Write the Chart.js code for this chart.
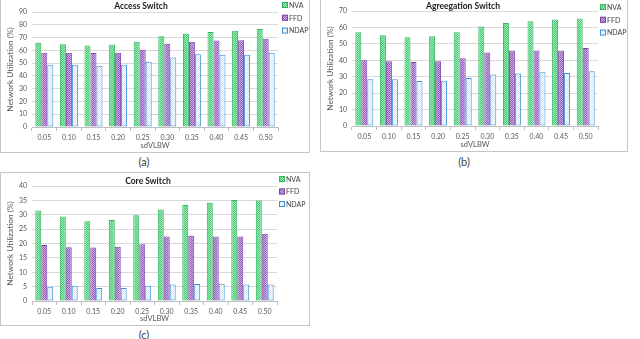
<!DOCTYPE html>
<html>
<head>
<meta charset="utf-8">
<script src="https://cdn.jsdelivr.net/npm/chart.js@4.4.0/dist/chart.umd.min.js"></script>
<style>
body{margin:0;background:#fff;width:640px;height:339px;overflow:hidden;position:relative;font-family:Lato,sans-serif}
.box{position:absolute;border:1px solid #c6c6c6;background:#fff}
.box canvas{display:block}
.cap{position:absolute;font-size:11px;color:#404040;transform:translate(-50%,-50%)}
</style>
</head>
<body>
<div class="box" style="left:0;top:-1px;width:308px;height:152px"><canvas id="chartA"></canvas></div>
<div class="box" style="left:320px;top:-1px;width:306px;height:151px"><canvas id="chartB"></canvas></div>
<div class="box" style="left:0;top:172px;width:308px;height:152px"><canvas id="chartC"></canvas></div>
<div class="cap" style="left:144px;top:161px">(a)</div>
<div class="cap" style="left:464px;top:161px">(b)</div>
<div class="cap" style="left:144px;top:334px">(c)</div>
<script>
var categories = ['0.05', '0.10', '0.15', '0.20', '0.25', '0.30', '0.35', '0.40', '0.45', '0.50'];
var seriesNames = ['NVA', 'FFD', 'NDAP'];

var accessNVA  = [66, 64.7, 63.7, 64.5, 66.8, 71, 73, 74.4, 75.4, 76.7];
var accessFFD  = [58.2, 58.2, 57.9, 58.2, 60.5, 65.2, 66.8, 67.6, 67.8, 69.1];
var accessNDAP = [48.8, 48.8, 48, 48.8, 51.1, 54.3, 56.9, 56.6, 56.6, 58.2];

var aggNVA  = [57, 55.2, 54, 54.6, 57, 60.6, 62.7, 63.7, 64.9, 65.5];
var aggFFD  = [40, 39.4, 39, 39.4, 41.2, 44.8, 46, 46, 46, 47.5];
var aggNDAP = [28.4, 28.4, 27.4, 27.6, 29.2, 31.4, 32, 32.7, 32.3, 33.3];

var coreNVA  = [31.5, 29.4, 27.7, 28.2, 29.8, 31.8, 33.4, 34.2, 35.1, 35];
var coreFFD  = [19.5, 18.7, 18.6, 18.9, 19.7, 22.4, 22.7, 22.4, 22.4, 23.4];
var coreNDAP = [5, 5.3, 4.5, 4.5, 5.3, 5.7, 5.9, 6, 5.7, 5.7];

// small checker fill like the excel pattern bars
function checker(c1, c2) {
    var p = document.createElement('canvas');
    p.width = 2; p.height = 2;
    var g = p.getContext('2d');
    g.fillStyle = c2; g.fillRect(0, 0, 2, 2);
    g.fillStyle = c1; g.fillRect(0, 0, 1, 1); g.fillRect(1, 1, 1, 1);
    return g.createPattern(p, 'repeat');
}
var fills = [checker('#3fca6f', '#a6e9bd'), checker('#8f5bbd', '#cdb0e2'), checker('#cfe6f8', '#ffffff')];
var borders = ['#2fb65c', '#7d45aa', '#3d8fd6'];

var decor = {
    id: 'decor',
    afterDraw: function(chart, args, o) {
        var ctx = chart.ctx;
        ctx.save();
        ctx.textBaseline = 'middle';
        ctx.font = 'bold 8.5px Lato';
        ctx.fillStyle = '#1a1a1a';
        ctx.textAlign = 'center';
        ctx.fillText(o.title, o.titleX, o.titleY);
        ctx.font = '7px Lato';
        ctx.textAlign = 'left';
        chart.data.datasets.forEach(function(ds, i) {
            var y = o.legendY + i * o.legendGap;
            ctx.fillStyle = ds.backgroundColor;
            ctx.fillRect(o.legendX, y - 3, 6, 6);
            ctx.strokeStyle = ds.borderColor;
            ctx.lineWidth = 1;
            ctx.strokeRect(o.legendX + 0.5, y - 2.5, 5, 5);
            ctx.fillStyle = '#404040';
            ctx.fillText(ds.label, o.legendX + 7, y + 0.5);
        });
        ctx.restore();
    }
};

var tickFont = {family: 'Lato', size: 7};

function makeChart(id, values, yMax, step, xHeight, pad, deco) {
    var datasets = values.map(function(v, i) {
        return {
            label: seriesNames[i],
            data: v,
            backgroundColor: fills[i],
            borderColor: borders[i],
            borderWidth: 1,
            borderSkipped: false,
            categoryPercentage: 0.73,
            barPercentage: 1.0
        };
    });
    return new Chart(document.getElementById(id), {
        type: 'bar',
        data: {labels: categories, datasets: datasets},
        plugins: [decor],
        options: {
            responsive: true,
            maintainAspectRatio: false,
            animation: false,
            layout: {padding: pad},
            plugins: {
                legend: {display: false},
                tooltip: {enabled: false},
                decor: deco
            },
            scales: {
                x: {
                    offset: true,
                    grid: {drawOnChartArea: false, drawTicks: true, tickLength: 4, color: '#bfbfbf', offset: true},
                    border: {display: true, color: '#bfbfbf'},
                    ticks: {font: tickFont, color: '#595959', padding: 3, maxRotation: 0, autoSkip: false},
                    title: {display: true, text: 'sdVLBW', font: {family: 'Lato', size: 7.5}, color: '#595959', padding: {top: 0, bottom: 2}},
                    afterFit: function(s) { s.height = xHeight; }
                },
                y: {
                    min: 0,
                    max: yMax,
                    ticks: {stepSize: step, font: tickFont, color: '#595959', padding: 5, autoSkip: false},
                    grid: {color: '#d9d9d9', drawTicks: false},
                    border: {display: false},
                    title: {display: true, text: 'Network Utilization (%)', font: {family: 'Lato', size: 8.3}, color: '#595959', padding: {top: 4, bottom: 0}},
                    afterFit: function(s) { s.width = 31; }
                }
            }
        }
    });
}

makeChart('chartA', [accessNVA, accessFFD, accessNDAP], 90, 10, 25,
    {top: 12, right: 31, bottom: 0, left: 0},
    {title: 'Access Switch', titleX: 140, titleY: 6, legendX: 281, legendY: 5, legendGap: 12.8});

makeChart('chartB', [aggNVA, aggFFD, aggNDAP], 70, 10, 25,
    {top: 11, right: 29, bottom: 0, left: 0},
    {title: 'Agreegation Switch', titleX: 142, titleY: 6, legendX: 279, legendY: 7, legendGap: 12.8});

makeChart('chartC', [coreNVA, coreFFD, coreNDAP], 40, 5, 24,
    {top: 13, right: 32, bottom: 0, left: 0},
    {title: 'Core Switch', titleX: 147, titleY: 8, legendX: 278, legendY: 6, legendGap: 12.5});
</script>
</body>
</html>
